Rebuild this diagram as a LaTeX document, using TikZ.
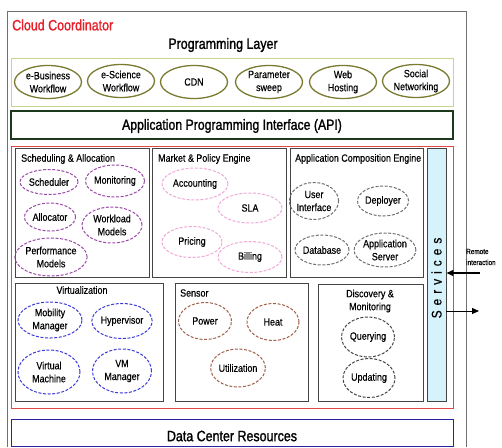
\documentclass[tikz,border=0pt]{standalone}
\usepackage{fontspec}
\setmainfont{Liberation Sans}[FakeStretch=0.85,FakeBold=0.4]
\newfontfamily\heavy{Liberation Sans}[FakeStretch=0.83,FakeBold=1.4]
\usetikzlibrary{shapes.geometric,fit,arrows.meta}
\definecolor{ctitle}{HTML}{E8202A}
\definecolor{progborder}{HTML}{C8D58C}
\definecolor{progell}{HTML}{7A7A30}
\definecolor{apiborder}{HTML}{1E3A1E}
\definecolor{redbox}{HTML}{E04848}
\definecolor{boxgray}{HTML}{454545}
\definecolor{servfill}{HTML}{D6F3FB}
\definecolor{cpurple}{HTML}{9A4AA8}
\definecolor{cpink}{HTML}{F0A8D8}
\definecolor{cgray}{HTML}{707070}
\definecolor{cblue}{HTML}{3A3AD8}
\definecolor{cbrown}{HTML}{A0604A}
\definecolor{cdcr}{HTML}{2424A0}
\newcommand{\fsbig}{\heavy\fontsize{15}{17}\selectfont}
\newcommand{\fsmid}{\fontsize{10.5}{13}\selectfont}
\begin{document}
\begin{tikzpicture}[x=1pt,y=-1pt,
  frame/.style={rectangle,inner sep=0pt,line width=0.9pt},
  gbox/.style={frame,draw=boxgray},
  ell/.style={ellipse,inner sep=0pt,align=center,font=\fsmid,line width=1pt,dash pattern=on 3pt off 1.6pt},
  pl/.style={ell,draw=progell,solid,line width=1.3pt},
  sch/.style={ell,draw=cpurple},
  mkt/.style={ell,draw=cpink},
  apc/.style={ell,draw=cgray},
  vir/.style={ell,draw=cblue},
  sen/.style={ell,draw=cbrown},
  dis/.style={ell,draw=boxgray},
  sz/.style n args={2}{minimum width=#1pt,minimum height=#2pt},
  ttl/.style={font=\fsmid,inner sep=0pt,anchor=west},
  arr/.style={-{Triangle[length=7pt,width=6pt]},black}
]
\useasboundingbox (0,0) rectangle (502,447);
% outer frame
\draw[draw=cgray,line width=1pt] (7,447) -- (7,11) -- (466,11) -- (466,447);
\node[font=\fsbig,text=ctitle,anchor=west,inner sep=0pt] (cc) at (12,25) {Cloud Coordinator};
\node[font=\fsbig,inner sep=0pt] (plt) at (223,45) {Programming Layer};
% programming layer
\node[frame,draw=progborder,line width=1pt,fit={(11,58)(453,106)}] (prog) {};
\node[pl,sz={67}{33}] (e1) at (48,82) {e-Business\\Workflow};
\node[pl,sz={67}{33}] (e2) at (121,81) {e-Science\\Workflow};
\node[pl,sz={67}{33}] (e3) at (194,82) {CDN};
\node[pl,sz={67}{33}] (e4) at (269,82) {Parameter\\sweep};
\node[pl,sz={67}{33}] (e5) at (343,82) {Web\\Hosting};
\node[pl,sz={67}{33}] (e6) at (416,81) {Social\\Networking};
% API
\node[frame,draw=apiborder,line width=1.2pt,fit={(11,111)(453,139)}] (api) {};
\node[font=\heavy\fontsize{14.8}{18}\selectfont,inner sep=0pt] (apit) at (232,126) {Application Programming Interface (API)};
% red box
\node[frame,draw=redbox,line width=0.8pt,fit={(11,146)(453,408)}] (red) {};
% inner boxes
\node[gbox,fit={(15,148)(149,277)}] (sched) {};
\node[gbox,fit={(152,148)(286,277)}] (market) {};
\node[gbox,fit={(290,148)(423,277)}] (appc) {};
\node[gbox,fill=servfill,fit={(427,148)(446,401)}] (serv) {};
\node[gbox,fit={(15,283)(163,401)}] (virt) {};
\node[gbox,fit={(175,283)(308,401)}] (sensor) {};
\node[gbox,fit={(318,284)(423,401)}] (disc) {};
% titles
\node[ttl] (t1) at (21,159) {Scheduling \& Allocation};
\node[ttl] (t2) at (158,159) {Market \& Policy Engine};
\node[ttl] (t3) at (295,159) {Application Composition Engine};
\node[font=\fsmid,inner sep=0pt] (t4) at (82,290) {Virtualization};
\node[ttl] (t5) at (180,293) {Sensor};
\node[font=\fsmid,inner sep=0pt,align=center] (t6) at (370,301) {Discovery \&\\Monitoring};
% scheduling
\node[sch,sz={58}{25}] (s1) at (49,182) {Scheduler};
\node[sch,sz={48}{32}] (s2) at (115,181) {Monitoring};
\node[sch,sz={51}{28}] (s3) at (50,217) {Allocator};
\node[sch,sz={60}{36}] (s4) at (112,225) {Workload\\Models};
\node[sch,sz={54}{38}] (s5) at (51,257) {Performance\\Models};
% market
\node[mkt,sz={66}{32}] (m1) at (195,184) {Accounting};
\node[mkt,sz={64}{30}] (m2) at (250,208) {SLA};
\node[mkt,sz={60}{31}] (m3) at (192,242) {Pricing};
\node[mkt,sz={64}{31}] (m4) at (250,257) {Billing};
% app composition
\node[apc,sz={42}{37}] (a1) at (314,201) {User\\Interface};
\node[apc,sz={51}{30}] (a2) at (383,201) {Deployer};
\node[apc,sz={51}{30}] (a3) at (322,250) {Database};
\node[apc,sz={50}{34}] (a4) at (385,250) {Application\\Server};
% virtualization
\node[vir,sz={64}{36}] (v1) at (50,320) {Mobility\\Manager};
\node[vir,sz={60}{35}] (v2) at (122,321) {Hypervisor};
\node[vir,sz={62}{44}] (v3) at (49,372) {Virtual\\Machine};
\node[vir,sz={59}{44}] (v4) at (122,371) {VM\\Manager};
% sensor
\node[sen,sz={53}{37}] (n1) at (205,321) {Power};
\node[sen,sz={52}{37}] (n2) at (273,322) {Heat};
\node[sen,sz={52}{38}] (n3) at (238,368) {Utilization};
% discovery
\node[dis,sz={53}{40}] (d1) at (368,337) {Querying};
\node[dis,sz={52}{39}] (d2) at (369,378) {Updating};
% services label
\node[rotate=90,font=\fontsize{14}{15}\selectfont,inner sep=0pt] (stxt) at (436.5,278)
  {S\hspace{5pt}e\hspace{5pt}r\hspace{5pt}v\hspace{5pt}i\hspace{5pt}c\hspace{5pt}e\hspace{5pt}s};
% remote interaction
\node[font=\fontsize{7.5}{11}\selectfont,anchor=west,inner sep=0pt,align=left] (ri) at (466,257) {Remote\\interaction};
\coordinate (rin) at (480,273);
\coordinate (rout) at (479,311);
\draw[arr,line width=1.8pt] (rin) -- (rin -| serv.east);
\draw[arr,line width=1pt] (serv.east |- rout) -- (rout);
% data center
\node[frame,draw=cdcr,line width=1pt,fit={(11,419)(453,446)}] (dcr) {};
\node[font=\fsbig,inner sep=0pt] (dcrt) at (232,436) {Data Center Resources};
\end{tikzpicture}
\end{document}
